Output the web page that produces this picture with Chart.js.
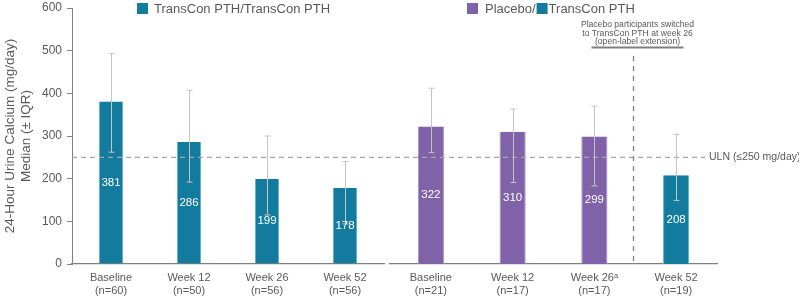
<!DOCTYPE html>
<html>
<head>
<meta charset="utf-8">
<script src="https://cdn.jsdelivr.net/npm/chart.js@4.4.1/dist/chart.umd.min.js"></script>
<style>
  html, body { margin: 0; padding: 0; background: #ffffff; }
  #wrap { position: relative; width: 799px; height: 300px; overflow: hidden; }
  #leftBox { position: absolute; left: 0; top: 0; width: 386px; height: 300px; }
  #rightBox { position: absolute; left: 386px; top: 0; width: 413px; height: 300px; }
</style>
</head>
<body>
<div id="wrap">
  <div id="leftBox"><canvas id="leftChart" width="386" height="300"></canvas></div>
  <div id="rightBox"><canvas id="rightChart" width="413" height="300"></canvas></div>
</div>
<script>
// ---- Data ----
const leftCategories = [['Baseline', '(n=60)'], ['Week 12', '(n=50)'], ['Week 26', '(n=56)'], ['Week 52', '(n=56)']];
const leftMedians = [381, 286, 199, 178];
const leftQ1 = [262, 192, 115, 94];
const leftQ3 = [493, 407, 300, 240];

const rightCategories = [['Baseline', '(n=21)'], ['Week 12', '(n=17)'], ['Week 26\u1d43', '(n=17)'], ['Week 52', '(n=19)']];
const rightMedians = [322, 310, 299, 208];
const rightQ1 = [261, 191, 183, 149];
const rightQ3 = [412, 363, 370, 304];

const yTicks = [0, 100, 200, 300, 400, 500, 600];
const ulnValue = 250;
const yTitle = ['24-Hour Urine Calcium (mg/day)', 'Median (\u00b1 IQR)'];
const leftLegend = 'TransCon PTH/TransCon PTH';
const rightLegendA = 'Placebo/';
const rightLegendB = 'TransCon PTH';
const ulnLabel = 'ULN (\u2264250 mg/day)';
const switchNote = ['Placebo participants switched', 'to TransCon PTH at week 26', '(open-label extension)'];

// ---- Styles ----
const TEAL = '#137b9d';
const TEAL_EDGE = '#5fb0cc';
const PURPLE = '#7f62a8';
const PURPLE_EDGE = '#a48fc4';
const TEXT = '#595959';
const AXIS = '#7f7f7f';
const FONT = 'Liberation Sans, Arial, sans-serif';

function drawOverlay(chart, q1, q3) {
  const ctx = chart.ctx;
  const y = chart.scales.y;
  const meta = chart.getDatasetMeta(0);
  ctx.save();
  // ULN line
  const uy = y.getPixelForValue(ulnValue);
  ctx.strokeStyle = '#a6a6a6';
  ctx.lineWidth = 1.3;
  ctx.setLineDash([5, 4]);
  ctx.beginPath();
  const o = chart.options.plugins.overlay;
  ctx.moveTo(o.ulnFrom === 'edge' ? 0 : chart.chartArea.left, uy);
  ctx.lineTo(o.ulnTo === 'edge' ? chart.width : chart.chartArea.right - 12, uy);
  ctx.stroke();
  ctx.setLineDash([]);
  // error bars
  ctx.strokeStyle = '#c4c4c4';
  ctx.lineWidth = 1;
  meta.data.forEach((el, i) => {
    const x = Math.round(el.x) + 0.5;
    const a = y.getPixelForValue(q1[i]);
    const b = y.getPixelForValue(q3[i]);
    ctx.beginPath();
    ctx.moveTo(x, a); ctx.lineTo(x, b);
    ctx.moveTo(x - 3, a); ctx.lineTo(x + 3, a);
    ctx.moveTo(x - 3, b); ctx.lineTo(x + 3, b);
    ctx.stroke();
  });
  // value labels
  ctx.fillStyle = '#ffffff';
  ctx.font = '11.5px ' + FONT;
  ctx.textAlign = 'center';
  ctx.textBaseline = 'middle';
  const vals = chart.data.datasets[0].data;
  meta.data.forEach((el, i) => {
    ctx.fillText(String(vals[i]), el.x, (el.y + el.base) / 2);
  });
  ctx.restore();
}

const leftOverlay = {
  id: 'overlay',
  afterDatasetsDraw(chart) {
    drawOverlay(chart, leftQ1, leftQ3);
    const ctx = chart.ctx;
    ctx.save();
    // legend
    ctx.fillStyle = TEAL;
    ctx.fillRect(137, 3, 11, 11);
    ctx.fillStyle = TEXT;
    ctx.font = '13px ' + FONT;
    ctx.textAlign = 'left';
    ctx.textBaseline = 'middle';
    ctx.fillText(leftLegend, 154, 9);
    ctx.restore();
  }
};

const rightOverlay = {
  id: 'overlay',
  afterDatasetsDraw(chart) {
    drawOverlay(chart, rightQ1, rightQ3);
    const ctx = chart.ctx;
    const area = chart.chartArea;
    const xs = chart.scales.x;
    const y = chart.scales.y;
    ctx.save();
    // legend
    ctx.font = '13px ' + FONT;
    ctx.textAlign = 'left';
    ctx.textBaseline = 'middle';
    let lx = 81;
    ctx.fillStyle = PURPLE;
    ctx.fillRect(lx, 3, 11, 11);
    lx += 18;
    ctx.fillStyle = TEXT;
    ctx.fillText(rightLegendA, lx, 9);
    lx += ctx.measureText(rightLegendA).width + 1;
    ctx.fillStyle = TEAL;
    ctx.fillRect(lx, 3, 11, 11);
    lx += 12;
    ctx.fillStyle = TEXT;
    ctx.fillText(rightLegendB, lx, 9);

    // ULN label
    const uy = y.getPixelForValue(ulnValue);
    ctx.font = '10.5px ' + FONT;
    ctx.fillStyle = TEXT;
    ctx.fillText(ulnLabel, area.right - 8, uy);

    // divider between week 26 and week 52
    const dx = Math.round(xs.getPixelForValue(2.47)) + 0.5;
    ctx.strokeStyle = AXIS;
    ctx.lineWidth = 1.3;
    ctx.setLineDash([5, 5]);
    ctx.beginPath();
    ctx.moveTo(dx, 56);
    ctx.lineTo(dx, area.bottom);
    ctx.stroke();
    ctx.setLineDash([]);

    // note
    const cx = dx + 4;
    ctx.font = '8.6px ' + FONT;
    ctx.textAlign = 'center';
    ctx.fillStyle = TEXT;
    switchNote.forEach((t, i) => ctx.fillText(t, cx, 25 + i * 8.4));
    ctx.strokeStyle = '#808080';
    ctx.lineWidth = 2;
    ctx.beginPath();
    ctx.moveTo(cx - 46, 47.5);
    ctx.lineTo(cx + 46, 47.5);
    ctx.stroke();
    ctx.restore();
  }
};

function xScale() {
  return {
    type: 'category',
    offset: true,
    afterFit(scale) { scale.height = 34; },
    grid: { display: false, drawTicks: false },
    border: { display: true, color: AXIS, width: 1.3 },
    ticks: {
      color: TEXT,
      font: { family: FONT, size: 11, lineHeight: 1.2 },
      padding: 7,
      maxRotation: 0,
      autoSkip: false
    }
  };
}

const commonPlugins = {
  legend: { display: false },
  tooltip: { enabled: false },
  title: { display: false }
};

new Chart(document.getElementById('leftChart'), {
  type: 'bar',
  data: {
    labels: leftCategories,
    datasets: [{
      data: leftMedians,
      backgroundColor: TEAL,
      borderColor: TEAL_EDGE,
      borderWidth: { left: 1, right: 1, top: 0, bottom: 0 },
      categoryPercentage: 1,
      barPercentage: 0.31
    }]
  },
  options: {
    responsive: false,
    animation: false,
    devicePixelRatio: 1,
    layout: { padding: { top: 8, right: 2, bottom: 2, left: 0 } },
    plugins: Object.assign({}, commonPlugins, { overlay: { ulnFrom: 'area', ulnTo: 'edge' } }),
    scales: {
      x: xScale(),
      y: {
        min: 0,
        max: 600,
        afterBuildTicks(scale) { scale.ticks = yTicks.map(v => ({ value: v })); },
        afterFit(scale) { scale.width = 72; scale.paddingTop = 0; scale.paddingBottom = 0; },
        grid: { drawOnChartArea: false, drawTicks: true, tickLength: 5, color: AXIS },
        border: { display: true, color: AXIS, width: 1 },
        ticks: { color: TEXT, font: { family: FONT, size: 12 }, padding: 5 },
        title: {
          display: true,
          text: yTitle,
          color: TEXT,
          font: { family: FONT, size: 13.5, lineHeight: 1.2 },
          padding: { top: 2, bottom: 0 }
        }
      }
    }
  },
  plugins: [leftOverlay]
});

new Chart(document.getElementById('rightChart'), {
  type: 'bar',
  data: {
    labels: rightCategories,
    datasets: [{
      data: rightMedians,
      backgroundColor: [PURPLE, PURPLE, PURPLE, TEAL],
      borderColor: [PURPLE_EDGE, PURPLE_EDGE, PURPLE_EDGE, TEAL_EDGE],
      borderWidth: { left: 1, right: 1, top: 0, bottom: 0 },
      categoryPercentage: 1,
      barPercentage: 0.32
    }]
  },
  options: {
    responsive: false,
    animation: false,
    devicePixelRatio: 1,
    layout: { padding: { top: 8, right: 82, bottom: 2, left: 4 } },
    plugins: Object.assign({}, commonPlugins, { overlay: { ulnFrom: 'edge', ulnTo: 'area' } }),
    scales: {
      x: xScale(),
      y: {
        display: false,
        min: 0,
        max: 600
      }
    }
  },
  plugins: [rightOverlay]
});
</script>
</body>
</html>
